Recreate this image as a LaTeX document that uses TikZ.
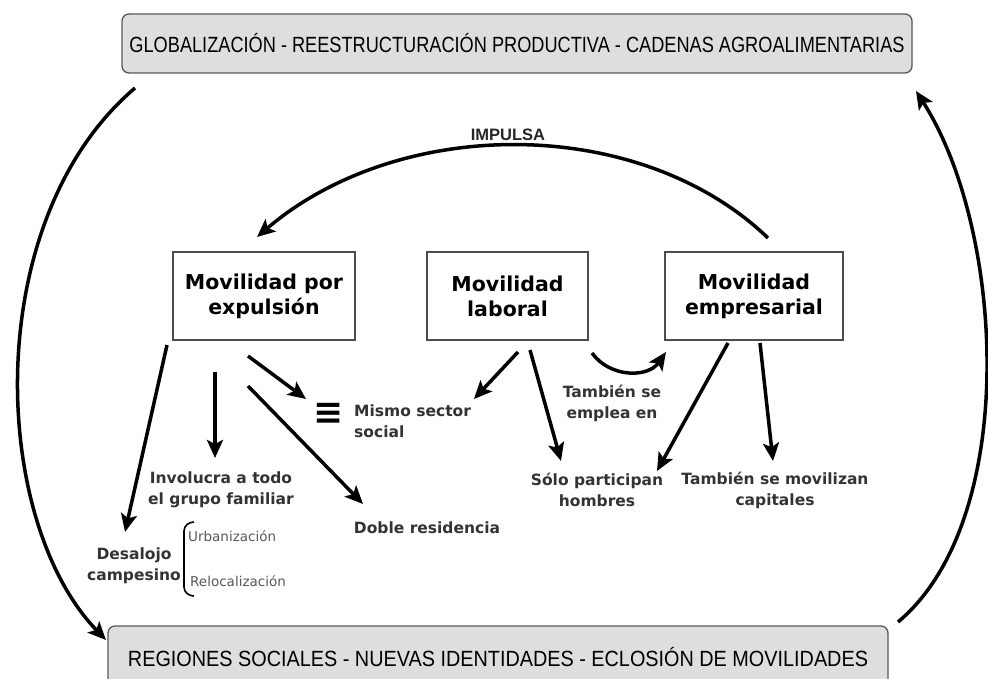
\documentclass[tikz,border=0pt]{standalone}
\usepackage{graphicx}
\usepackage{fontspec}
\setmainfont{DejaVu Sans}
\newfontfamily\narrowf{Liberation Sans}
\usetikzlibrary{arrows.meta}
\begin{document}
\begin{tikzpicture}[x=1pt,y=-1pt,
  arr/.style={line width=3.5pt,-{Stealth[length=18pt,width=16pt,inset=4pt]}},
  band/.style={draw=black!65,line width=1.3pt,rounded corners=7pt,fill=black!13,inner sep=0pt},
  mbox/.style={draw=black!70,line width=1.3pt,minimum height=88pt,align=center,inner sep=0pt,
    font=\bfseries\fontsize{20.5}{25}\selectfont},
  lbl/.style={align=center,text=black!80,font=\bfseries\fontsize{15.5}{21}\selectfont,inner sep=0pt},
  small/.style={text=black!65,font=\fontsize{13.5}{14}\selectfont,inner sep=0pt,anchor=west}]
\useasboundingbox (0,0) rectangle (988,679);
\fill[white] (0,0) rectangle (988,679);

% bands
\node[band,minimum width=790pt,minimum height=59pt] (top) at (517,43.5)
  {\resizebox{775pt}{\height}{\narrowf\fontsize{22}{22}\selectfont GLOBALIZACIÓN - REESTRUCTURACIÓN PRODUCTIVA - CADENAS AGROALIMENTARIAS}};
\node[band,minimum width=780pt,minimum height=62pt] (bot) at (498,657)
  {\resizebox{740pt}{\height}{\narrowf\fontsize{22}{22}\selectfont REGIONES SOCIALES - NUEVAS IDENTIDADES - ECLOSIÓN DE MOVILIDADES}};

% main boxes
\node[mbox,minimum width=182pt] (b1) at (264,296) {Movilidad por\\expulsión};
\node[mbox,minimum width=161pt] (b2) at (507.5,296) {Movilidad\\laboral};
\node[mbox,minimum width=178pt] (b3) at (754,296) {Movilidad\\empresarial};

% labels
\node[font=\narrowf\bfseries\fontsize{16.5}{18}\selectfont,text=black!85] (imp) at (508,135) {IMPULSA};
\node[lbl] (des) at (134,566) {Desalojo\\campesino};
\node[lbl] (inv) at (221,490) {Involucra a todo\\el grupo familiar};
\node[lbl] (dob) at (427,528) {Doble residencia};
\node[lbl,align=left,anchor=west] (mis) at (354,421) {Mismo sector\\social};
\node[font=\bfseries\fontsize{36}{36}\selectfont,inner sep=0pt] (eq) at (329,414) {≡};
\node[lbl] (tam) at (612,403) {También se\\emplea en};
\node[lbl] (sol) at (597,490) {Sólo participan\\hombres};
\node[lbl] (cap) at (775,490) {También se movilizan\\capitales};
\node[small] (urb) at (188,536) {Urbanización};
\node[small] (rel) at (190,581) {Relocalización};
\draw[line width=1.6pt] (194,522) to[out=180,in=90] (184,531) -- (184,587) to[out=-90,in=180] (194,596);

% outer arcs
\coordinate (ls) at (135,88);
\coordinate (le) at (106,640);
\draw[arr] (ls) .. controls (-20,220) and (-10,520) .. (le);
\coordinate (rs) at (898,622);
\coordinate (re) at (916,91);
\draw[arr] (rs) .. controls (1020,520) and (1005,230) .. (re);

% impulsa arc
\coordinate (is) at (768,238);
\coordinate (ie) at (257,237);
\draw[arr] (is) .. controls (640,115) and (400,115) .. (ie);

% inner arrows
\draw[arr] (167,345) -- (125,532);
\draw[arr] (215,372) -- (215,458);
\draw[arr] (248,356) -- (306,399);
\draw[arr] (248,386) -- (363,504);
\draw[arr] (518,352) -- (474,399);
\draw[arr] (530,350) -- (561,461);
\draw[arr] (592,353) .. controls (610,378) and (648,378) .. (666,352);
\draw[arr] (728,343) -- (657,471);
\draw[arr] (760,343) -- (773,461);
\end{tikzpicture}
\end{document}
